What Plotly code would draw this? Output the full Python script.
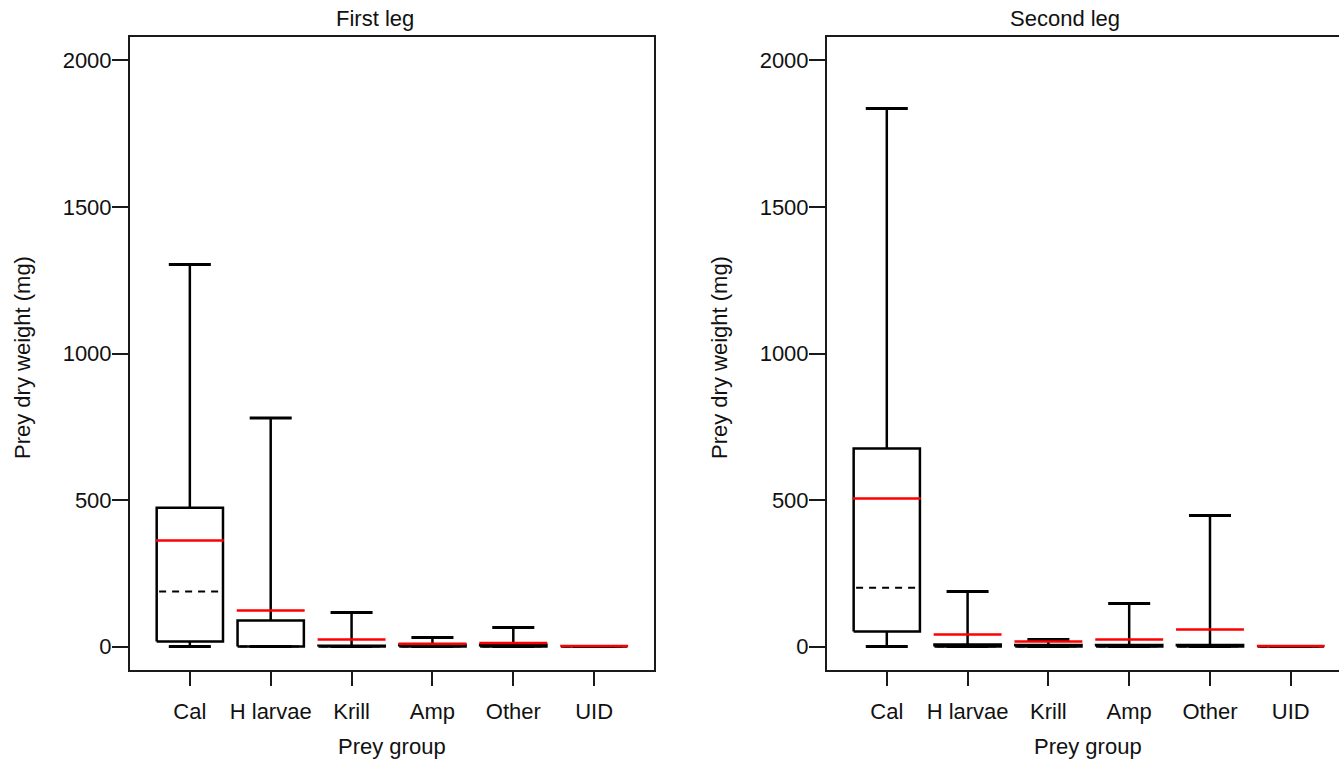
import plotly.graph_objects as go

categories = ["Cal", "H larvae", "Krill", "Amp", "Other", "UID"]
y_ticks = [0, 500, 1000, 1500, 2000]

# First leg (prey dry weight, mg)
leg1_low = [0, 0, 0, 0, 0, 0]
leg1_q1 = [17, 0, 0, 0, 0, 0]
leg1_median = [188, 0, 0, 0, 0, 0]
leg1_q3 = [474, 89, 3, 6, 6, 0]
leg1_high = [1304, 780, 116, 31, 65, 0]
leg1_mean = [362, 123, 24, 10, 12, 2]

# Second leg (prey dry weight, mg)
leg2_low = [0, 0, 0, 0, 0, 0]
leg2_q1 = [51, 0, 0, 0, 0, 0]
leg2_median = [201, 0, 0, 0, 0, 0]
leg2_q3 = [676, 7, 5, 5, 5, 0]
leg2_high = [1836, 188, 24, 147, 447, 0]
leg2_mean = [505, 41, 17, 24, 58, 2]

BOX_HW = 0.41
CAP_HW = 0.26
FONT = dict(family="Arial, Liberation Sans, sans-serif", size=22, color="#111111")
LW = 2.5


def panel_traces(low, q1, med, q3, high, mean, xa, ya):
    bx, by, wx, wy, cx, cy, mx, my, ax_, ay = ([] for _ in range(10))
    for i in range(len(categories)):
        p = i + 1
        bx += [p - BOX_HW, p + BOX_HW, p + BOX_HW, p - BOX_HW, p - BOX_HW, None]
        by += [q1[i], q1[i], q3[i], q3[i], q1[i], None]
        wx += [p, p, None, p, p, None]
        wy += [q3[i], high[i], None, q1[i], low[i], None]
        cx += [p - CAP_HW, p + CAP_HW, None, p - CAP_HW, p + CAP_HW, None]
        cy += [high[i], high[i], None, low[i], low[i], None]
        mx += [p - BOX_HW + 0.03, p + BOX_HW - 0.03, None]
        my += [med[i], med[i], None]
        ax_ += [p - BOX_HW - 0.01, p + BOX_HW + 0.01, None]
        ay += [mean[i], mean[i], None]
    common = dict(mode="lines", xaxis=xa, yaxis=ya, hoverinfo="skip", showlegend=False)
    return [
        go.Scatter(x=wx, y=wy, line=dict(color="black", width=LW), **common),
        go.Scatter(x=cx, y=cy, line=dict(color="black", width=LW + 0.5), **common),
        go.Scatter(x=bx, y=by, line=dict(color="black", width=LW), **common),
        go.Scatter(x=mx, y=my, line=dict(color="black", width=2, dash="7px,6px"), **common),
        go.Scatter(x=ax_, y=ay, line=dict(color="#ff0000", width=2.5), **common),
    ]


fig = go.Figure()
for t in panel_traces(leg1_low, leg1_q1, leg1_median, leg1_q3, leg1_high, leg1_mean, "x", "y"):
    fig.add_trace(t)
for t in panel_traces(leg2_low, leg2_q1, leg2_median, leg2_q3, leg2_high, leg2_mean, "x2", "y2"):
    fig.add_trace(t)

W, H = 1339, 761
L1, R1 = 130, 654
L2 = 827
TOP, BOT = 37, 670
PH = BOT - TOP

axis_common = dict(
    showline=True, linecolor="#1a1a1a", linewidth=2,
    ticks="outside", tickcolor="#1a1a1a", tickwidth=2,
    showgrid=False, zeroline=False, tickfont=FONT,
)
x_extra = dict(ticklen=14, ticklabelstandoff=7)
y_extra = dict(ticklen=16, ticklabelstandoff=-4)

fig.update_layout(
    width=W, height=H,
    margin=dict(l=0, r=0, t=TOP, b=H - BOT),
    paper_bgcolor="white", plot_bgcolor="white",
    xaxis=dict(domain=[L1 / W, R1 / W], range=[0.26, 6.74], tickvals=[1, 2, 3, 4, 5, 6],
               ticktext=categories, mirror=True, anchor="y", **x_extra, **axis_common),
    yaxis=dict(domain=[0, 1], range=[-80, 2080], tickvals=y_ticks,
               mirror=True, anchor="x", **y_extra, **axis_common),
    xaxis2=dict(domain=[L2 / W, 1], range=[0.26, 0.26 + (W - L2) / 80.8], tickvals=[1, 2, 3, 4, 5, 6],
                ticktext=categories, mirror=True, anchor="y2", **x_extra, **axis_common),
    yaxis2=dict(domain=[0, 1], range=[-80, 2080], tickvals=y_ticks,
                mirror=False, anchor="x2", **y_extra, **axis_common),
)


def py(pix):
    return (BOT - pix) / PH


ann = [
    dict(text="First leg", x=375 / W, y=py(18)),
    dict(text="Second leg", x=1065 / W, y=py(18)),
    dict(text="Prey group", x=(L1 + R1) / 2 / W, y=py(746)),
    dict(text="Prey group", x=1088 / W, y=py(746)),
]
for a in ann:
    fig.add_annotation(xref="paper", yref="paper", xanchor="center", yanchor="middle",
                       showarrow=False, font=FONT, **a)
for xpix in (22, 719):
    fig.add_annotation(text="Prey dry weight (mg)", xref="paper", yref="paper",
                       x=xpix / W, y=py(358), xanchor="center", yanchor="middle",
                       textangle=-90, showarrow=False, font=FONT)

fig.write_html("out.html")
